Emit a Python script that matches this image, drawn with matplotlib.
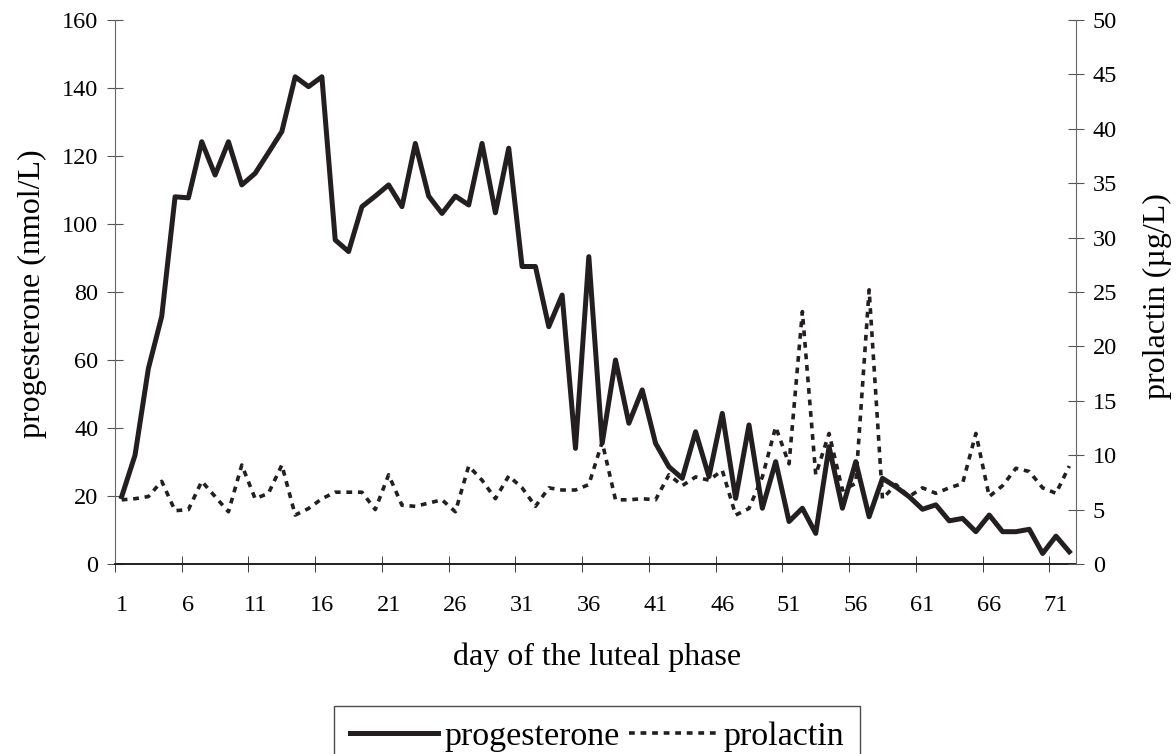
import numpy as np
import matplotlib.pyplot as plt

plt.rcParams['font.family'] = ['Liberation Serif', 'DejaVu Serif']

# day of the luteal phase
days = np.arange(1, 73)
day_labels = list(range(1, 72, 5))

# progesterone (nmol/L), left axis
progesterone = [19.8, 32, 57.5, 72.8, 108, 107.7, 124.2, 114.4, 124.2, 111.5,
                114.9, 121, 127.2, 143.3, 140.4, 143.3, 95.3, 91.9, 105.1, 108.2,
                111.5, 105.1, 123.7, 108.2, 103.1, 108.2, 105.6, 123.7, 103.3, 122.3,
                87.5, 87.5, 69.8, 79.1, 34, 90.4, 35.5, 60, 41.4, 51.2,
                35.5, 28.6, 25.2, 38.9, 25.7, 44.3, 19.3, 40.9, 16.4, 30.1,
                12.5, 16.4, 9, 34.5, 16.4, 30.1, 13.9, 25.2, 22.7, 19.8,
                16.1, 17.4, 12.7, 13.4, 9.5, 14.4, 9.5, 9.5, 10.2, 3.1, 8.2, 3.6]

# prolactin (ug/L), right axis
prolactin = [5.9, 6.0, 6.2, 7.6, 4.9, 5.0, 7.6, 6.2, 4.8, 9.1,
             6.0, 6.5, 9.1, 4.5, 5.1, 6.0, 6.6, 6.6, 6.6, 5.0,
             8.2, 5.4, 5.3, 5.6, 5.9, 4.8, 9.0, 7.7, 6.0, 8.1,
             7.0, 5.3, 7.0, 6.8, 6.8, 7.3, 11.2, 5.9, 5.9, 6.0,
             5.9, 8.2, 7.2, 8.0, 7.7, 8.6, 4.5, 5.1, 8.0, 12.6,
             9.2, 23.2, 8.2, 12.0, 6.8, 7.4, 25.2, 6.0, 7.3, 6.2,
             7.0, 6.5, 7.0, 7.4, 12.0, 6.2, 7.2, 8.8, 8.5, 7.0, 6.5, 9.0]

ink = '#231f20'
W, H = 1176, 754

fig = plt.figure(figsize=(W / 100, H / 100), dpi=100)
ax = fig.add_axes([115 / W, 1 - 564 / H, (1076 - 115) / W, 544 / H])
ax2 = ax.twinx()

ln1, = ax.plot(days, progesterone, color=ink, lw=3.6, label='progesterone')
ln2, = ax2.plot(days, prolactin, color=ink, lw=2.6, linestyle=(0, (1.6, 1.6)),
                label='prolactin')

ax.set_xlim(0.5, 72.5)
ax.set_ylim(0, 160)
ax2.set_ylim(0, 50)
ax.set_yticks(range(0, 161, 20))
ax2.set_yticks(range(0, 51, 5))
ax.set_xticks(day_labels)
ax.set_xticks(np.arange(0.5, 72, 5), minor=True)

ax.tick_params(axis='x', which='major', length=0, pad=22, labelsize=17.5)
ax.tick_params(axis='x', which='minor', direction='inout', length=11, color=ink)
ax.tick_params(axis='y', direction='inout', length=12, pad=6, labelsize=17.5,
               color='#555555')
ax2.tick_params(axis='y', direction='inout', length=12, pad=6, labelsize=17.5,
                color='#555555')

for s in ['top', 'right']:
    ax.spines[s].set_visible(False)
for s in ['top', 'left', 'bottom']:
    ax2.spines[s].set_visible(False)
ax.spines['left'].set_color('#666666')
ax2.spines['right'].set_color('#666666')
ax.spines['bottom'].set_color(ink)
ax.spines['bottom'].set_linewidth(1.4)

fig.text(597 / W, 1 - 657 / H, 'day of the luteal phase', fontsize=23,
         ha='center', va='center')
fig.text(32 / W, 1 - 294 / H, 'progesterone (nmol/L)', fontsize=23,
         rotation=90, ha='center', va='center')
fig.text(1157 / W, 1 - 296 / H, 'prolactin (µg/L)', fontsize=23,
         rotation=90, ha='center', va='center')

leg = fig.legend(handles=[ln1, ln2], loc='upper center',
                 bbox_to_anchor=(597 / W, 1 - 706 / H), ncol=2, fontsize=24.5,
                 frameon=True, fancybox=False, edgecolor=ink, handlelength=2.6,
                 handletextpad=0.2, columnspacing=0.25, borderpad=0.45,
                 borderaxespad=0)
leg.get_frame().set_linewidth(1.0)

fig.savefig('out.png', dpi=100)
